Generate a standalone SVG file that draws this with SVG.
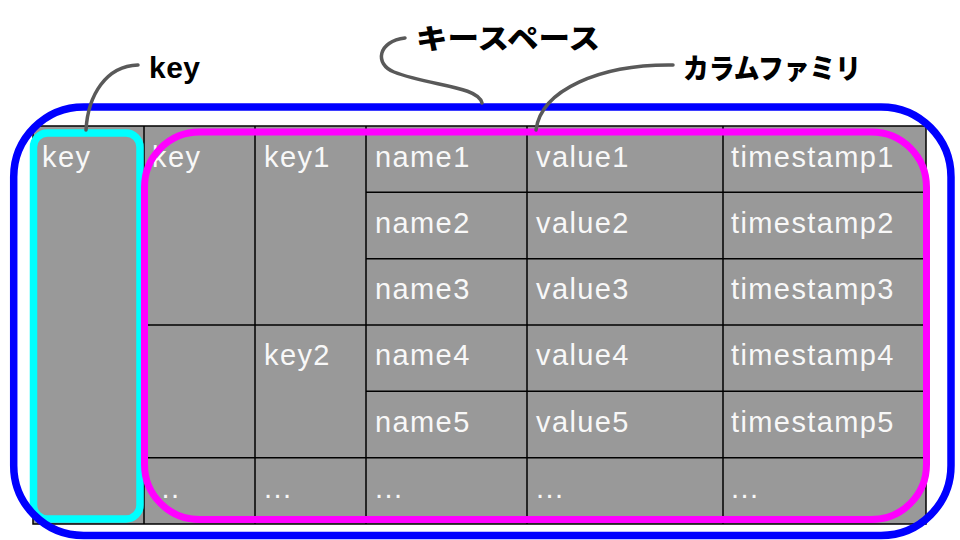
<svg xmlns="http://www.w3.org/2000/svg" width="960" height="540" viewBox="0 0 960 540">
<style>
  .cell { fill: #f8f8f8; font-family: "Liberation Sans", Arial, sans-serif; font-size: 29px; letter-spacing: 1.4px; }
  .grid { stroke: #000; stroke-width: 1.5; fill: none; }
  .lbl { fill: #000; font-weight: bold; font-size: 30px; font-family: "Liberation Sans", "Noto Sans CJK JP", sans-serif; }
  .jp { font-family: "Noto Sans CJK JP", "Liberation Sans", sans-serif; font-size: 28px; font-weight: 900; }
  .callout { fill: none; stroke: #595959; stroke-width: 3.5; stroke-linecap: round; }
</style>
<rect width="960" height="540" fill="#ffffff"/>
<g id="table">
  <rect x="33" y="126" width="893" height="398" fill="#999999"/>
  <g class="grid">
    <rect x="33" y="126" width="893" height="398"/>
    <line x1="144" y1="126" x2="144" y2="524"/>
    <line x1="255" y1="126" x2="255" y2="524"/>
    <line x1="366" y1="126" x2="366" y2="524"/>
    <line x1="527" y1="126" x2="527" y2="524"/>
    <line x1="723" y1="126" x2="723" y2="524"/>
    <line x1="366" y1="192.3" x2="926" y2="192.3"/>
    <line x1="366" y1="258.7" x2="926" y2="258.7"/>
    <line x1="144" y1="325" x2="926" y2="325"/>
    <line x1="366" y1="391.3" x2="926" y2="391.3"/>
    <line x1="144" y1="457.7" x2="926" y2="457.7"/>
  </g>
  <g class="cell">
    <text x="42" y="166.5">key</text>
    <text x="152" y="166.5">key</text>
    <text x="264" y="166.5">key1</text>
    <text x="375" y="166.5">name1</text>
    <text x="536" y="166.5">value1</text>
    <text x="731" y="166.5">timestamp1</text>
    <text x="375" y="232.8">name2</text>
    <text x="536" y="232.8">value2</text>
    <text x="731" y="232.8">timestamp2</text>
    <text x="375" y="299.1">name3</text>
    <text x="536" y="299.1">value3</text>
    <text x="731" y="299.1">timestamp3</text>
    <text x="264" y="365.4">key2</text>
    <text x="375" y="365.4">name4</text>
    <text x="536" y="365.4">value4</text>
    <text x="731" y="365.4">timestamp4</text>
    <text x="375" y="431.7">name5</text>
    <text x="536" y="431.7">value5</text>
    <text x="731" y="431.7">timestamp5</text>
    <text x="152" y="498">...</text>
    <text x="264" y="498">...</text>
    <text x="375" y="498">...</text>
    <text x="536" y="498">...</text>
    <text x="731" y="498">...</text>
  </g>
</g>
<g id="key-group">
  <rect x="33.5" y="133" width="106.5" height="386" rx="14" fill="none" stroke="#00ffff" stroke-width="7.5"/>
</g>
<g id="columnfamily-group">
  <rect x="144.5" y="132" width="782" height="387.5" rx="55" fill="none" stroke="#ff00ff" stroke-width="7"/>
</g>
<g id="keyspace-group">
  <rect x="13.7" y="107" width="937.3" height="428.5" rx="70" fill="none" stroke="#0000ff" stroke-width="7.5"/>
</g>
<g id="connectors">
  <path class="callout" d="M138,65 C106,66 88,95 86,130"/>
  <path class="callout" d="M405,38 C378,41 374,64 394,72 C430,86 478,86 482,103"/>
  <path class="callout" d="M673,65 C600,64 541,90 536,130"/>
</g>
<g id="label-key">
  <text class="lbl" x="149" y="78" letter-spacing="0.5">key</text>
</g>
<g id="label-keyspace">
  <text class="lbl jp" x="416" y="49" textLength="184" lengthAdjust="spacingAndGlyphs">キースペース</text>
</g>
<g id="label-columnfamily">
  <text class="lbl jp" x="683" y="79" textLength="178" lengthAdjust="spacingAndGlyphs">カラムファミリ</text>
</g>
</svg>
